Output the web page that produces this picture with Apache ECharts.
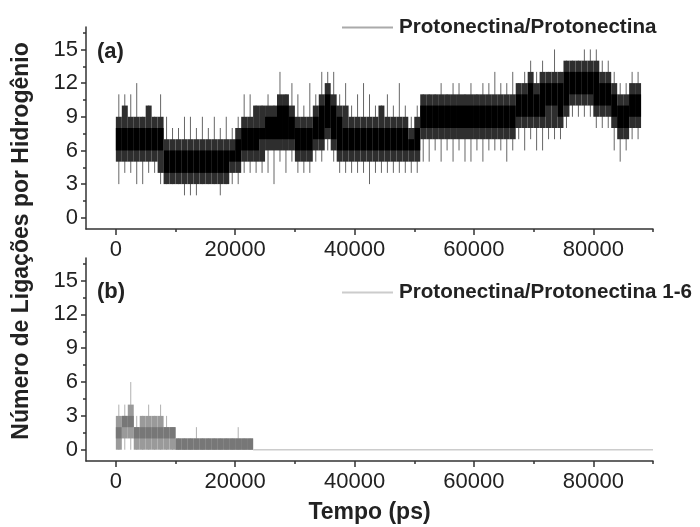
<!DOCTYPE html>
<html>
<head>
<meta charset="utf-8">
<script src="https://cdn.jsdelivr.net/npm/echarts@6/dist/echarts.min.js"></script>
<style>html,body{margin:0;padding:0;background:#fff}#c{width:700px;height:527px}</style>
</head>
<body>
<div id="c"></div>
<script>
// ---- data (envelope per 1000 ps window) ----
// min/max: extreme spikes; bandLo/bandHi: dense region; lo/hi: darkest core
const BIN_PS = 1000;
const topTime = [0,1000,2000,3000,4000,5000,6000,7000,8000,9000,10000,11000,12000,13000,14000,15000,16000,17000,18000,19000,20000,21000,22000,23000,24000,25000,26000,27000,28000,29000,30000,31000,32000,33000,34000,35000,36000,37000,38000,39000,40000,41000,42000,43000,44000,45000,46000,47000,48000,49000,50000,51000,52000,53000,54000,55000,56000,57000,58000,59000,60000,61000,62000,63000,64000,65000,66000,67000,68000,69000,70000,71000,72000,73000,74000,75000,76000,77000,78000,79000,80000,81000,82000,83000,84000,85000,86000,87000];
const topMin    = [3,4,4,3,3,4,4,3, 3,3,3,2,2,2,3,3,3,2,3,3,3, 4,4,4,4,4,3,5,4,5,4,4,4,5,5,6,5,4,4,4,4,4,3,4, 4,4,4,4,4,4,4, 5,5,6,5,6,5,6,5,5,6,5,6,6,6,5,6, 7,6,7,6,6,7,7,7,8,9,9,9,9,8,8,8,6,5,6,7,7];
const topBandLo = [5,5,5,5,5,5,5,4, 3,3,3,3,3,3,3,3,3,3,3,4,4, 5,5,5,5,6,6,6,6,6,5,5,5,6,6,7,6,5,5,5,5,5,5,5, 5,5,5,5,5,5,5, 7,7,7,7,7,7,7,7,7,7,7,7,7,7,7,7, 8,8,8,8,8,8,8,8,9,10,10,10,10,9,9,9,8,7,7,8,8];
const topLo     = [6,6,6,6,6,6,6,6, 4,4,4,4,4,4,4,4,4,4,4,5,5, 6,6,6,7,7,7,7,7,7,6,6,6,7,7,8,7,6,6,6,6,6,6,6, 6,6,6,6,6,6,6, 8,8,8,8,8,8,8,8,8,8,8,8,8,8,8,8, 9,9,9,9,9,10,10,9,10,11,11,11,11,10,10,10,9,8,8,9,9];
const topHi     = [8,8,8,8,8,8,8,8, 6,6,6,6,6,6,6,6,6,6,6,6,7, 8,8,8,8,9,9,10,10,9,8,8,8,9,10,11,10,9,8,8,8,8,8,8, 8,8,8,8,8,7,8, 10,10,10,10,10,10,10,10,10,10,10,10,10,10,10,10, 11,11,12,11,12,12,12,12,13,13,13,13,13,13,12,12,11,10,10,11,11];
const topBandHi = [9,10,9,9,9,10,9,9, 7,7,7,7,7,7,7,7,7,7,7,7,8, 9,9,10,10,10,10,11,11,10,9,9,9,10,11,12,11,10,10,9,9,9,9,9, 10,9,9,9,9,8,9, 11,11,11,11,11,11,11,11,11,11,11,11,11,11,11,11, 12,12,13,12,13,13,13,13,14,14,14,14,14,14,13,13,12,11,11,12,12];
const topMax    = [11,11,11,12,9,10,9,11, 9,8,8,9,9,8,9,8,9,8,9,8,9, 11,11,10,10,11,10,13,11,12,11,10,12,11,13,13,13,11,12,10,11,12,11,10, 10,11,10,12,10,9,10, 11,11,11,12,11,12,12,11,12,11,12,12,13,12,12,13, 12,13,14,13,14,13,15,13,14,14,14,15,15,15,14,14,13,12,12,13,13];

const botTime   = [0,1000,2000,3000,4000,5000,6000,7000,8000,9000,10000,11000,12000,13000,14000,15000,16000,17000,18000,19000,20000,21000,22000];
const botMin    = [0,0,0,0,0,0,0,0,0,0, 0,0,0,0,0,0,0,0,0,0,0,0,0];
const botBandLo = [0,1,1,0,0,0,0,0,0,0, 0,0,0,0,0,0,0,0,0,0,0,0,0];
const botLo     = [1,2,2,1,1,1,1,1,1,1, 0,0,0,0,0,0,0,0,0,0,0,0,0];
const botHi     = [2,3,3,2,2,2,2,2,2,2, 1,1,1,1,1,1,1,1,1,1,1,1,1];
const botBandHi = [3,3,4,2,3,3,3,3,2,2, 1,1,1,1,1,1,1,1,1,1,1,1,1];
const botMax    = [4,4,6,3,3,4,3,4,3,2, 1,1,1,2,1,1,1,1,1,1,2,1,1];
const botTailTime = [23000, 90000];
const botTailVal  = [0, 0];

const yTicks = [0,3,6,9,12,15];
const yMinorTicks = [1.5,4.5,7.5,10.5,13.5,16.5];
const xTicks = [0,20000,40000,60000,80000];
const xMinorTicks = [10000,30000,50000,70000,90000];

const nameTop = 'Protonectina/Protonectina';
const nameBot = 'Protonectina/Protonectina 1-6';
const yTitle = 'Número de Ligações por Hidrogênio';
const xTitle = 'Tempo (ps)';

// ---- chart ----
const FONT = 'Liberation Sans, Arial, sans-serif';
const AX = '#333';
const chart = echarts.init(document.getElementById('c'), null, {renderer:'canvas'});

function binRenderer(core, band, whisk){
  return function(params, api){
    const t = api.value(0);
    const left = api.coord([t, 0])[0];
    const right = api.coord([t + BIN_PS, 0])[0];
    const y = k => api.coord([t, api.value(k)])[1];
    const yMin = y(1), yBL = y(2), yLo = y(3), yHi = y(4), yBH = y(5), yMax = y(6);
    const cx = (left + right) / 2;
    return {type:'group', children:[
      {type:'line', shape:{x1:cx, y1:yMin, x2:cx, y2:yMax}, style:{stroke:whisk, lineWidth:1}},
      {type:'rect', shape:{x:left, y:yBH, width:right-left, height:Math.max(1, yBL-yBH)}, style:{fill:band}},
      {type:'rect', shape:{x:left, y:yHi, width:right-left, height:Math.max(1, yLo-yHi)}, style:{fill:core}}
    ]};
  };
}

function xAxes(gi, showName){
  return [
    {type:'value', gridIndex:gi, min:-5000, max:90000, position:'bottom',
     axisLine:{show:true, onZero:false, lineStyle:{color:AX, width:1.5}},
     axisTick:{show:true, customValues:xTicks, length:6, lineStyle:{color:AX, width:1.5}},
     axisLabel:{customValues:xTicks, margin:10, color:'#222', fontSize:22, fontFamily:FONT, formatter:v=>String(v)},
     splitLine:{show:false},
     name: showName ? xTitle : '', nameLocation:'middle', nameGap:40,
     nameTextStyle:{color:'#222', fontSize:23, fontWeight:'bold', fontFamily:FONT}},
    {type:'value', gridIndex:gi, min:-5000, max:90000, position:'bottom',
     axisLine:{show:false, onZero:false},
     axisTick:{show:true, customValues:xMinorTicks, length:3, lineStyle:{color:AX, width:1.5}},
     axisLabel:{show:false}, splitLine:{show:false}}
  ];
}
function yAxes(gi){
  return [
    {type:'value', gridIndex:gi, min:-1, max:17, position:'left',
     axisLine:{show:true, onZero:false, lineStyle:{color:AX, width:1.5}},
     axisTick:{show:true, customValues:yTicks, length:5, lineStyle:{color:AX, width:1.5}},
     axisLabel:{customValues:yTicks, margin:8, color:'#222', fontSize:22, fontFamily:FONT},
     splitLine:{show:false}},
    {type:'value', gridIndex:gi, min:-1, max:17, position:'left',
     axisLine:{show:false, onZero:false},
     axisTick:{show:true, customValues:yMinorTicks, length:3, lineStyle:{color:AX, width:1.5}},
     axisLabel:{show:false}, splitLine:{show:false}}
  ];
}

const option = {
  backgroundColor:'#fff',
  animation:false,
  grid:[
    {left:86, right:47, top:27, height:202},
    {left:86, right:47, top:258, height:203}
  ],
  xAxis:[...xAxes(0,false), ...xAxes(1,true)],
  yAxis:[...yAxes(0), ...yAxes(1)],
  legend:[
    {left:342, top:17, padding:0, icon:'rect', itemWidth:51, itemHeight:2, itemGap:0, selectedMode:false,
     data:[{name:nameTop, itemStyle:{color:'#aaa'}}],
     textStyle:{fontSize:20.6, fontWeight:'bold', color:'#222', fontFamily:FONT, padding:[0,0,0,1]}},
    {left:342, top:282, padding:0, icon:'rect', itemWidth:51, itemHeight:2, itemGap:0, selectedMode:false,
     data:[{name:nameBot, itemStyle:{color:'#ccc'}}],
     textStyle:{fontSize:20.6, fontWeight:'bold', color:'#222', fontFamily:FONT, padding:[0,0,0,1]}}
  ],
  graphic:[
    {type:'text', x:22, y:241, rotation:Math.PI/2,
     style:{text:yTitle, font:'bold 23px '+FONT, fill:'#222', textAlign:'center', textVerticalAlign:'middle'}},
    {type:'text', left:97, top:41, style:{text:'(a)', font:'bold 22px '+FONT, fill:'#222'}},
    {type:'text', left:97, top:281, style:{text:'(b)', font:'bold 22px '+FONT, fill:'#222'}}
  ],
  series:[
    {name:nameTop, type:'custom', xAxisIndex:0, yAxisIndex:0, clip:true,
     itemStyle:{color:'#aaa'},
     renderItem:binRenderer('#000','#2e2e2e','#666'),
     encode:{x:0, y:[1,2,3,4,5,6]},
     data: topTime.map((t,i)=>[t, topMin[i], topBandLo[i], topLo[i], topHi[i], topBandHi[i], topMax[i]])},
    {name:nameBot, type:'line', xAxisIndex:2, yAxisIndex:2, symbol:'none', silent:true,
     lineStyle:{color:'#ccc', width:1.5},
     data: botTailTime.map((t,i)=>[t, botTailVal[i]])},
    {name:nameBot, type:'custom', xAxisIndex:2, yAxisIndex:2, clip:true,
     itemStyle:{color:'#ccc'},
     renderItem:binRenderer('#777','#9a9a9a','#b0b0b0'),
     encode:{x:0, y:[1,2,3,4,5,6]},
     data: botTime.map((t,i)=>[t, botMin[i], botBandLo[i], botLo[i], botHi[i], botBandHi[i], botMax[i]])}
  ]
};
chart.setOption(option);
</script>
</body>
</html>
